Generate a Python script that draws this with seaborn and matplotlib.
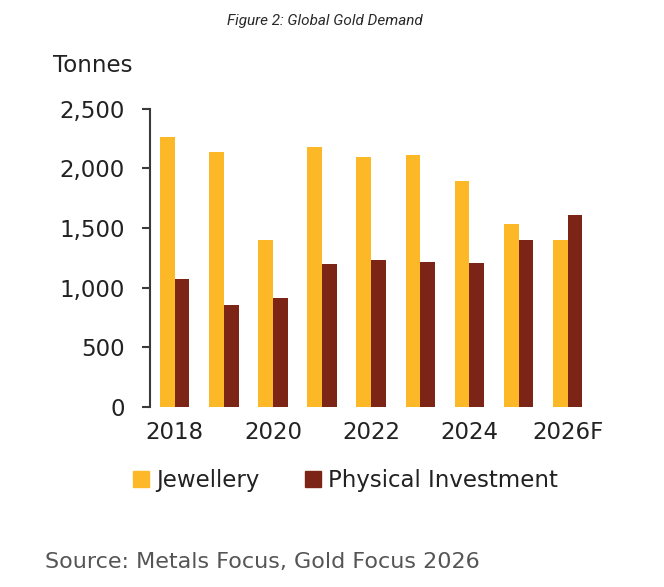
import pandas as pd
import numpy as np
import matplotlib.pyplot as plt
import seaborn as sns
from matplotlib.patches import Patch

# global gold demand, tonnes
years = ['2018', '2019', '2020', '2021', '2022', '2023', '2024', '2025', '2026F']
jewellery = [2260, 2140, 1400, 2175, 2090, 2110, 1890, 1530, 1400]
physical = [1070, 850, 910, 1195, 1230, 1215, 1205, 1400, 1610]
series = ['Jewellery', 'Physical Investment']
tick_years = ['2018', '2020', '2022', '2024', '2026F']
y_ticks = [0, 500, 1000, 1500, 2000, 2500]

gold = '#FCB827'
maroon = '#7C2416'

df = pd.DataFrame({
    'year': years * 2,
    'tonnes': jewellery + physical,
    'kind': [series[0]] * len(years) + [series[1]] * len(years),
})

sns.set_style('white')
plt.rcParams['font.family'] = ['DejaVu Sans']

fig = plt.figure(figsize=(6.64, 5.87), dpi=100)
ax = fig.add_axes([0.226, 0.307, 0.666, 0.508])

sns.barplot(data=df, x='year', y='tonnes', hue='kind', order=years,
            hue_order=series, palette=[gold, maroon], width=0.6,
            saturation=1, linewidth=0, legend=False, ax=ax)

ax.set_xlim(-0.5, len(years) - 0.5)
ax.set_ylim(0, 2500)
ax.set_yticks(y_ticks)
ax.set_yticklabels([f'{v:,}' for v in y_ticks])
ax.set_xticks([years.index(y) for y in tick_years])
ax.set_xticklabels(tick_years)
ax.set_xlabel('')
ax.set_ylabel('')

for s in ['top', 'right', 'bottom']:
    ax.spines[s].set_visible(False)
ax.spines['left'].set_color('#3a3a3a')
ax.spines['left'].set_linewidth(1.5)

ax.tick_params(axis='y', left=True, length=6, width=1.5, color='#3a3a3a', pad=12,
               labelsize=16.5, labelcolor='#222222')
ax.tick_params(axis='x', bottom=False, length=0, pad=10, labelsize=16.5,
               labelcolor='#222222')

fig.text(0.08, 0.889, 'Tonnes', fontsize=16.5, color='#222222', va='center', ha='left')
fig.text(0.49, 0.965, 'Figure 2: Global Gold Demand', fontsize=11, color='#2a2a2a',
         style='italic', family='Roboto', ha='center', va='center')
fig.text(0.068, 0.043, 'Source: Metals Focus, Gold Focus 2026', fontsize=16,
         color='#555555', ha='left', va='center')

handles = [Patch(color=gold, label=series[0]), Patch(color=maroon, label=series[1])]
fig.legend(handles=handles, loc='center', bbox_to_anchor=(0.52, 0.181), ncol=2,
           frameon=False, fontsize=16.5, handlelength=0.7, handleheight=0.7,
           handletextpad=0.3, columnspacing=2.0, labelcolor='#222222')

fig.savefig('out.png', dpi=100)
